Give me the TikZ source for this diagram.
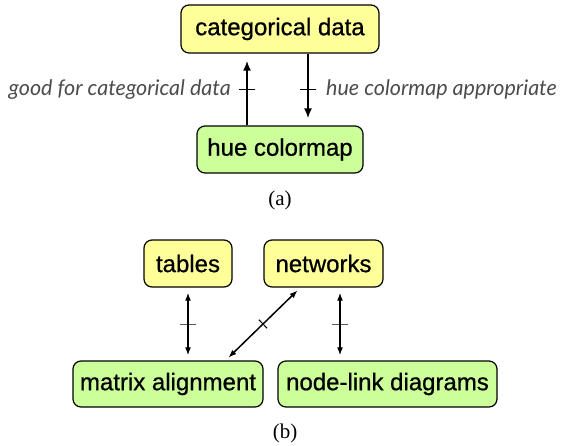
\documentclass[tikz,border=0pt]{standalone}
\usepackage{fontspec}
\setmainfont{Liberation Serif}
\setsansfont{Liberation Sans}
\newfontfamily\boxfont{Liberation Sans}[FakeBold=0.7]
\newfontfamily\notefont{Lato}
\usepackage{tikz}
\usetikzlibrary{arrows.meta}
\definecolor{data-yellow}{HTML}{FFFF99}
\definecolor{idiom-green}{HTML}{CCFF99}

\begin{document}
\begin{tikzpicture}[x=1pt, y=-1pt,
  box/.style={draw, rounded corners=8pt, line width=1.2pt, minimum height=47pt, inner sep=0pt, font=\boxfont\fontsize{24}{28}\selectfont},
  data/.style={box, fill=data-yellow},
  idiom/.style={box, fill=idiom-green},
  note/.style={inner sep=0pt, text=black!70, font=\notefont\itshape\fontsize{21.5}{25}\selectfont},
  crossbar/.style={draw, line width=1pt, minimum width=0pt, minimum height=16pt, inner sep=0pt},
  link/.style={line width=2pt, -{Latex[length=10pt,width=8pt]}, shorten >=7pt},
  bilink/.style={line width=1.5pt, {Latex[length=8pt,width=6pt]}-{Latex[length=8pt,width=6pt]}, shorten >=5pt, shorten <=5pt},
  caption/.style={inner sep=0pt, font=\rmfamily\fontsize{21}{24}\selectfont}]
\useasboundingbox (0,0) rectangle (562,445);
\pgfmathsetmacro{\leftx}{-33}
\pgfmathsetmacro{\rightx}{28}

% (a)
\node[data, minimum width=198pt, minimum height=48pt] (cat) at (280,29) {categorical data};
\node[idiom, minimum width=166pt] (hue) at (280,149.5) {hue colormap};

\draw[link] ([xshift=\leftx pt]hue.north) -- ([xshift=\leftx pt]cat.south)
  node[midway, sloped, crossbar] (goodtick) {};
\draw[link] ([xshift=\rightx pt]cat.south) -- ([xshift=\rightx pt]hue.north)
  node[midway, sloped, crossbar] (apptick) {};

\node[note, anchor=east] (goodlabel) at ([xshift=-16pt]goodtick.center) {good for categorical data};
\node[note, anchor=west] (applabel) at ([xshift=18pt]apptick.center) {hue colormap appropriate};

\node[caption] (capa) at (280,200) {(a)};

% (b)
\node[data, minimum width=88pt] (tables) at (188,263.5) {tables};
\node[data, minimum width=119pt] (networks) at (323.5,263.5) {networks};
\node[idiom, minimum width=190pt, minimum height=46pt] (matrix) at (168,384) {matrix alignment};
\node[idiom, minimum width=219pt, minimum height=46pt] (nodelink) at (387.5,384) {node-link diagrams};

\coordinate (netfoot) at ([xshift=16.5pt]networks.south);

\draw[bilink] (tables.south) -- (tables.south |- matrix.north)
  node[midway, sloped, crossbar] (tabtick) {};
\draw[bilink] (netfoot) -- (netfoot |- nodelink.north)
  node[midway, sloped, crossbar] (nettick) {};
\draw[bilink, shorten >=4pt, shorten <=4pt] ([xshift=-38pt]matrix.north east) -- ([xshift=37pt]networks.south west)
  node[midway, sloped, crossbar, minimum height=12pt] (diagtick) {};

\node[caption] (capb) at (285,433) {(b)};
\end{tikzpicture}
\end{document}
